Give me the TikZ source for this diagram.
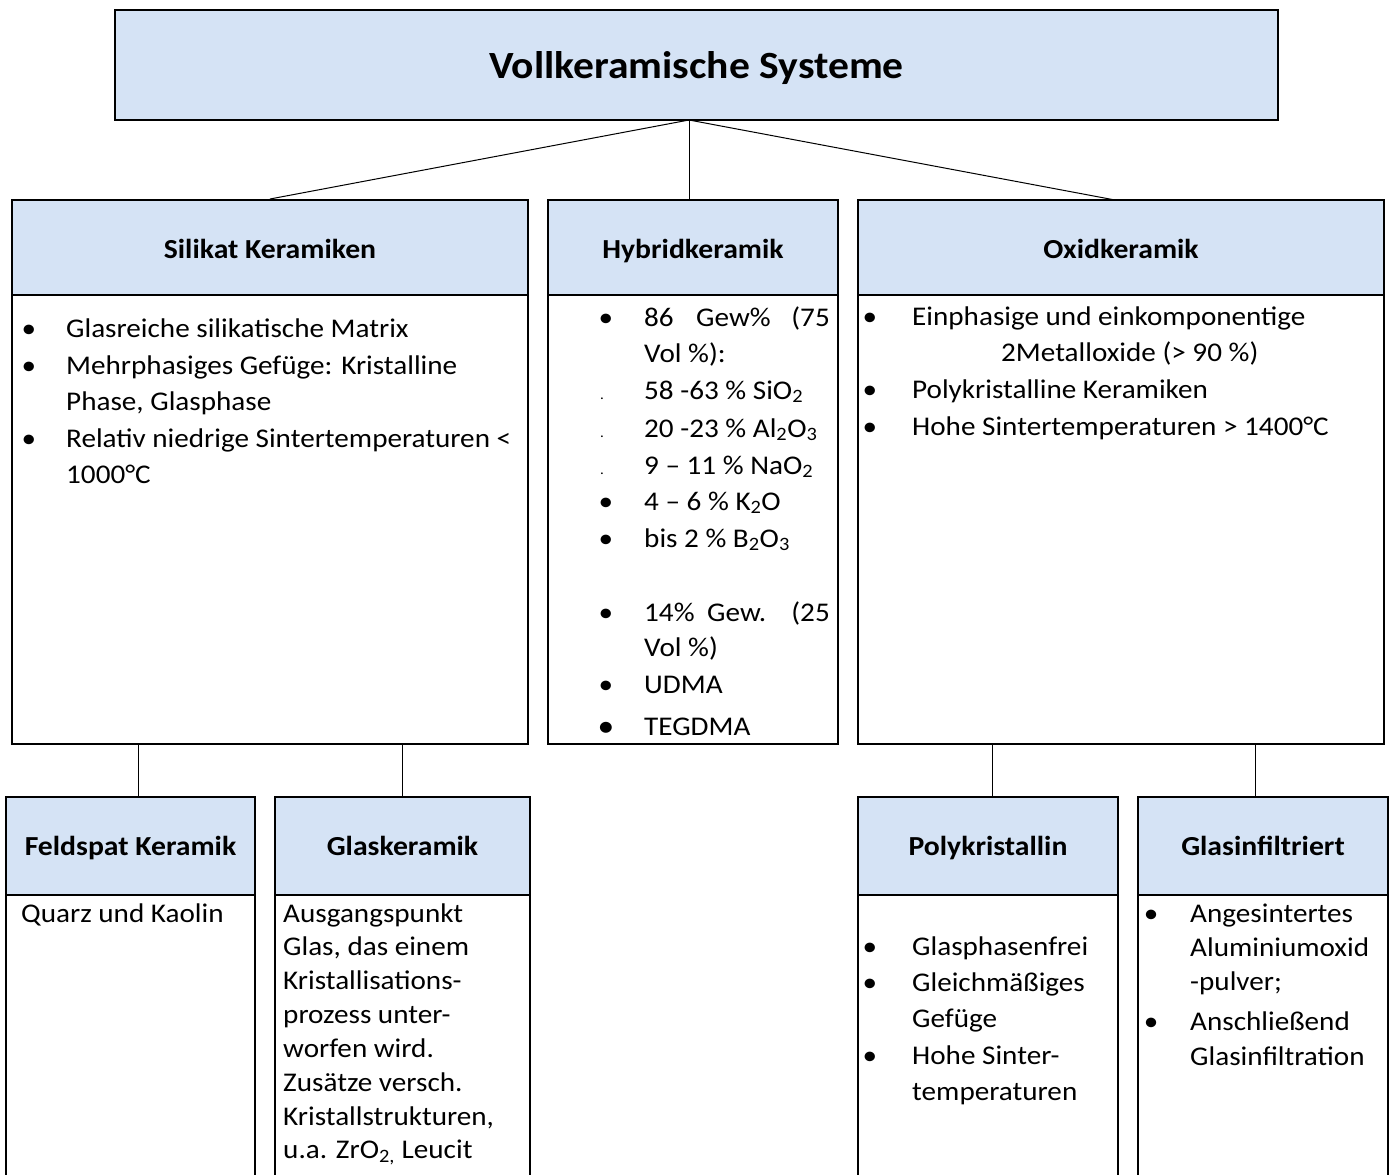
\documentclass[tikz,border=0pt]{standalone}
\usepackage{fontspec}
\setmainfont{Carlito}[FakeStretch=1.08]
\definecolor{hdrblue}{RGB}{213,227,245}
\begin{document}
\begin{tikzpicture}[x=1pt,y=-1pt,
  outerbox/.style={draw, line width=2pt, fill=white, inner sep=0pt, minimum width=#1},
  hdrbox/.style={draw, line width=2pt, fill=hdrblue, inner sep=0pt, text height=24pt, text depth=2pt, font=\bfseries\fontsize{27.5}{32}\selectfont},
  lowhdr/.style={text height=20pt, text depth=2pt},
  conn/.style={line width=1pt},
  txt/.style={anchor=base west, inner sep=0pt, font=\fontsize{27}{32}\selectfont},
  bul/.style={anchor=base, inner sep=0pt, font=\fontsize{27}{32}\selectfont},
  sdot/.style={anchor=base, inner sep=0pt, font=\fontsize{14}{16}\selectfont}
]
\useasboundingbox (0,0) rectangle (1390,1175);
\clip (0,0) rectangle (1390,1175);

% top box
\node[hdrbox, minimum width=1163pt, minimum height=110pt, text height=30pt, text depth=4pt, font=\bfseries\fontsize{38.5}{44}\selectfont] (top) at (696.5,65) {Vollkeramische Systeme};
\coordinate (tp) at (689,120);

% second row
\node[outerbox=516pt, minimum height=544pt] (sil) at (270,472) {};
\node[hdrbox, minimum width=516pt, minimum height=95pt] (silh) at (270,247.5) {Silikat Keramiken};
\node[outerbox=290pt, minimum height=544pt] (hyb) at (693,472) {};
\node[hdrbox, minimum width=290pt, minimum height=95pt] (hybh) at (693,247.5) {Hybridkeramik};
\node[outerbox=526pt, minimum height=544pt] (oxi) at (1121,472) {};
\node[hdrbox, minimum width=526pt, minimum height=95pt] (oxih) at (1121,247.5) {Oxidkeramik};

\coordinate (oxe) at (1115,200);
\draw[conn] (tp) -- (silh.north);
\draw[conn] (tp) -- (tp |- hybh.north);
\draw[conn] (tp) -- (oxe);

% third row
\node[outerbox=249pt, minimum height=420pt] (fel) at (130.5,1007) {};
\node[hdrbox, lowhdr, minimum width=249pt, minimum height=98pt] (felh) at (130.5,846) {Feldspat Keramik};
\node[outerbox=255pt, minimum height=420pt] (gla) at (402.5,1007) {};
\node[hdrbox, lowhdr, minimum width=255pt, minimum height=98pt] (glah) at (402.5,846) {Glaskeramik};
\node[outerbox=260pt, minimum height=420pt] (pol) at (988,1007) {};
\node[hdrbox, lowhdr, minimum width=260pt, minimum height=98pt] (polh) at (988,846) {Polykristallin};
\node[outerbox=250pt, minimum height=420pt] (gin) at (1263,1007) {};
\node[hdrbox, lowhdr, minimum width=250pt, minimum height=98pt] (ginh) at (1263,846) {Glasinfiltriert};

\coordinate (c1) at (138,744);
\coordinate (c2) at (402,744);
\coordinate (c3) at (992,744);
\coordinate (c4) at (1255,744);
\draw[conn] (c1) -- (c1 |- felh.north);
\draw[conn] (c2) -- (c2 |- glah.north);
\draw[conn] (c3) -- (c3 |- polh.north);
\draw[conn] (c4) -- (c4 |- ginh.north);

% Silikat body
\node[bul] (sb1) at (29,337) {•};
\node[txt] (st1) at (66,337) {Glasreiche silikatische Matrix};
\node[bul] (sb2) at (29,374) {•};
\node[txt] (st2) at (66,374) {Mehrphasiges Gefüge: Kristalline};
\node[txt] (st3) at (66,410) {Phase, Glasphase};
\node[bul] (sb3) at (29,447) {•};
\node[txt] (st4) at (66,447) {Relativ niedrige Sintertemperaturen <};
\node[txt] (st5) at (66,483) {1000°C};

% Hybrid body
\node[bul] (hb1) at (606,326) {•};
\node[txt] (ht1a) at (644,326) {86};
\node[txt] (ht1b) at (696,326) {Gew\%};
\node[txt, anchor=base east] (ht1c) at (830,326) {(75};
\node[txt] (ht2) at (644,362) {Vol \%):};
\node[sdot] (hd1) at (602,399) {.};
\node[txt] (ht3) at (644,399) {58 -63 \% SiO\textsubscript{2}};
\node[sdot] (hd2) at (602,437) {.};
\node[txt] (ht4) at (644,437) {20 -23 \% Al\textsubscript{2}O\textsubscript{3}};
\node[sdot] (hd3) at (602,474) {.};
\node[txt] (ht5) at (644,474) {9 – 11 \% NaO\textsubscript{2}};
\node[bul] (hb2) at (606,510) {•};
\node[txt] (ht6) at (644,510) {4 – 6 \% K\textsubscript{2}O};
\node[bul] (hb3) at (606,547) {•};
\node[txt] (ht7) at (644,547) {bis 2 \% B\textsubscript{2}O\textsubscript{3}};
\node[bul] (hb4) at (606,621) {•};
\node[txt] (ht8a) at (644,621) {14\%};
\node[txt] (ht8b) at (707,621) {Gew.};
\node[txt, anchor=base east] (ht8c) at (830,621) {(25};
\node[txt] (ht9) at (644,656) {Vol \%)};
\node[bul] (hb5) at (606,693) {•};
\node[txt] (ht10) at (644,693) {UDMA};
\node[bul, font=\fontsize{31}{34}\selectfont] (hb6) at (606,736) {•};
\node[txt] (ht11) at (644,735) {TEGDMA};

% Oxid body
\node[bul] (ob1) at (870,325) {•};
\node[txt] (ot1) at (912,325) {Einphasige und einkomponentige};
\node[txt] (ot2) at (1001,361) {2Metalloxide (> 90 \%)};
\node[bul] (ob2) at (870,398) {•};
\node[txt] (ot3) at (912,398) {Polykristalline Keramiken};
\node[bul] (ob3) at (870,435) {•};
\node[txt] (ot4) at (912,435) {Hohe Sintertemperaturen > 1400°C};

% Feldspat body
\node[txt] (ft1) at (21,922) {Quarz und Kaolin};

% Glaskeramik body
\node[txt] (gt1) at (283,922) {Ausgangspunkt};
\node[txt] (gt2) at (283,955.5) {Glas, das einem};
\node[txt] (gt3) at (283,989.5) {Kristallisations-};
\node[txt] (gt4) at (283,1023) {prozess unter-};
\node[txt] (gt5) at (283,1057) {worfen wird.};
\node[txt] (gt6) at (283,1091) {Zusätze versch.};
\node[txt] (gt7) at (283,1125) {Kristallstrukturen,};
\node[txt] (gt8) at (283,1158.5) {u.a. ZrO\textsubscript{2,} Leucit};

% Polykristallin body
\node[bul] (pb1) at (870,955) {•};
\node[txt] (pt1) at (912,955) {Glasphasenfrei};
\node[bul] (pb2) at (870,991) {•};
\node[txt] (pt2) at (912,991) {Gleichmäßiges};
\node[txt] (pt3) at (912,1027) {Gefüge};
\node[bul] (pb3) at (870,1064) {•};
\node[txt] (pt4) at (912,1064) {Hohe Sinter-};
\node[txt] (pt5) at (912,1100) {temperaturen};

% Glasinfiltriert body
\node[bul] (gb1) at (1151,922) {•};
\node[txt] (it1) at (1190,922) {Angesintertes};
\node[txt] (it2) at (1190,956) {Aluminiumoxid};
\node[txt] (it3) at (1190,990) {-pulver;};
\node[bul] (gb2) at (1151,1030) {•};
\node[txt] (it4) at (1190,1030) {Anschließend};
\node[txt] (it5) at (1190,1065) {Glasinfiltration};
\end{tikzpicture}
\end{document}
